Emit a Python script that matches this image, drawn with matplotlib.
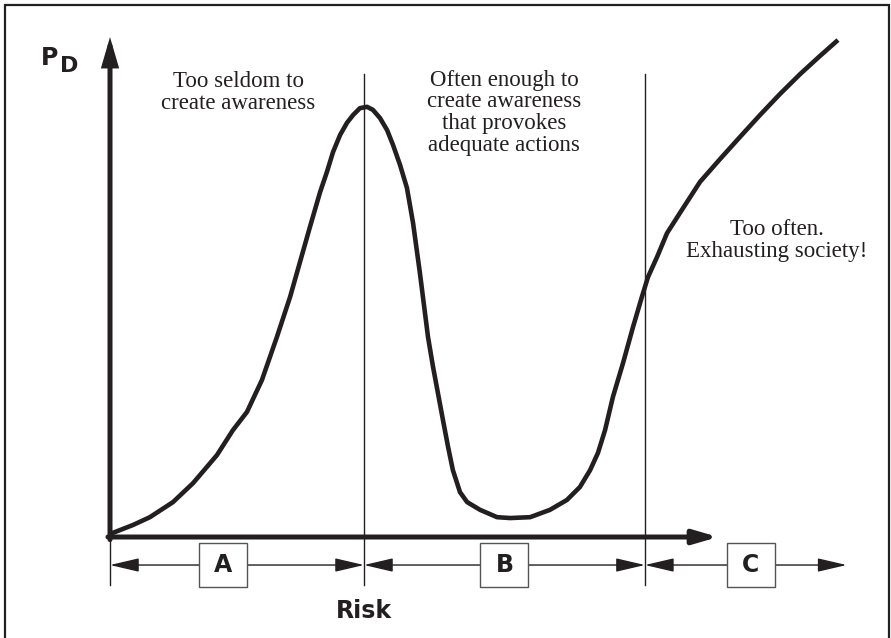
import matplotlib.pyplot as plt
from matplotlib.patches import Rectangle

# curve (risk units / P_D units)
risk = [0.0, 0.91, 1.57, 2.48, 3.27, 4.21, 4.84, 5.39, 5.98, 6.57, 7.09, 7.87,
        8.27, 8.54, 8.78, 9.06, 9.33, 9.57, 9.84, 10.12, 10.35, 10.63, 10.91,
        11.14, 11.42, 11.69, 11.93, 12.20, 12.52, 12.72, 13.11, 13.31, 13.50,
        13.78, 14.06, 14.57, 15.24, 15.75, 16.54, 17.32, 17.99, 18.50, 18.90,
        19.21, 19.49, 19.80, 20.20, 20.59, 20.94, 21.18, 21.54, 21.93, 22.44,
        23.23, 24.02, 24.80, 25.59, 26.38, 27.17, 27.95, 28.66]
pd_vals = [0.07, 0.28, 0.46, 0.81, 1.25, 1.90, 2.48, 2.90, 3.64, 4.64, 5.57,
           7.19, 8.00, 8.47, 8.93, 9.33, 9.61, 9.79, 9.95, 9.98, 9.91, 9.72,
           9.44, 9.10, 8.63, 8.10, 7.29, 6.13, 4.64, 3.94, 2.71, 2.09, 1.55,
           1.04, 0.81, 0.63, 0.46, 0.44, 0.46, 0.63, 0.86, 1.16, 1.55, 1.95,
           2.48, 3.25, 4.04, 4.87, 5.57, 6.03, 6.50, 7.05, 7.52, 8.24, 8.77,
           9.28, 9.79, 10.28, 10.74, 11.16, 11.53]

zone_edges = [0.0, 10.0, 21.06, 29.0]
zone_labels = ['A', 'B', 'C']
zone_box_x = [4.45, 15.53, 25.22]
zone_notes = ['Too seldom to\ncreate awareness',
              'Often enough to\ncreate awareness\nthat provokes\nadequate actions',
              'Too often.\nExhausting society!']
note_pos = [(5.04, 10.32), (15.51, 9.84), (26.26, 6.87)]

ink = '#231f20'

fig = plt.figure(figsize=(8.91, 6.38), dpi=100)
ax = fig.add_axes([0, 0, 1, 1])
ax.set_xlim(-4.331, 30.748)
ax.set_ylim(-2.343, 12.459)
ax.axis('off')

# frame round the whole picture (open at the bottom edge)
fig.patches.append(Rectangle((4.5 / 891, -0.1), 884.5 / 891, 1.1 - 5 / 638,
                             transform=fig.transFigure, fill=False,
                             lw=1.6, ec=ink))

# axes with arrow heads
ax.annotate('', xy=(0, 11.6), xytext=(0, -0.06),
            arrowprops=dict(arrowstyle='-|>,head_length=1.2,head_width=0.35',
                            lw=3.6, color=ink, shrinkA=0, shrinkB=0,
                            mutation_scale=12, joinstyle='miter'))
ax.annotate('', xy=(23.94, 0), xytext=(-0.08, 0),
            arrowprops=dict(arrowstyle='-|>,head_length=1.2,head_width=0.35',
                            lw=3.6, color=ink, shrinkA=0, shrinkB=0,
                            mutation_scale=12))

ax.plot(risk, pd_vals, color=ink, lw=3.3, solid_joinstyle='round',
        solid_capstyle='butt', zorder=4)

# zone boundaries
ax.plot([0, 0], [0, -1.11], color=ink, lw=1.0)
for xb in zone_edges[1:3]:
    ax.plot([xb, xb], [10.74, -1.11], color=ink, lw=1.0, zorder=3)

# zone dimension arrows and letter boxes
arr_y = -0.65
for i, lab in enumerate(zone_labels):
    ax.annotate('', xy=(zone_edges[i + 1], arr_y), xytext=(zone_edges[i], arr_y),
                arrowprops=dict(arrowstyle='<|-|>,head_length=1.5,head_width=0.35',
                                lw=1.0, color=ink, shrinkA=0, shrinkB=0,
                                mutation_scale=12))
    ax.add_patch(Rectangle((zone_box_x[i] - 0.945, arr_y - 0.52), 1.89, 1.04,
                           fc='white', ec='#555555', lw=1.0, zorder=5))
    ax.text(zone_box_x[i], arr_y, lab, ha='center', va='center',
            fontsize=17, fontweight='bold', family='DejaVu Sans',
            color=ink, zorder=6)

for note, (nx, ny) in zip(zone_notes, note_pos):
    ax.text(nx, ny, note, ha='center', va='center', multialignment='center',
            fontsize=16.5, family='Liberation Serif', color=ink,
            linespacing=1.05)

ax.text(10.0, -1.72, 'Risk', ha='center', va='center', fontsize=17,
        fontweight='bold', family='DejaVu Sans', color=ink)
ax.text(-2.74, 10.95, 'P', ha='left', va='baseline', fontsize=17,
        fontweight='bold', family='DejaVu Sans', color=ink)
ax.text(-1.95, 10.80, 'D', ha='left', va='baseline', fontsize=16,
        fontweight='bold', family='DejaVu Sans', color=ink)

fig.savefig('out.png', dpi=100)
